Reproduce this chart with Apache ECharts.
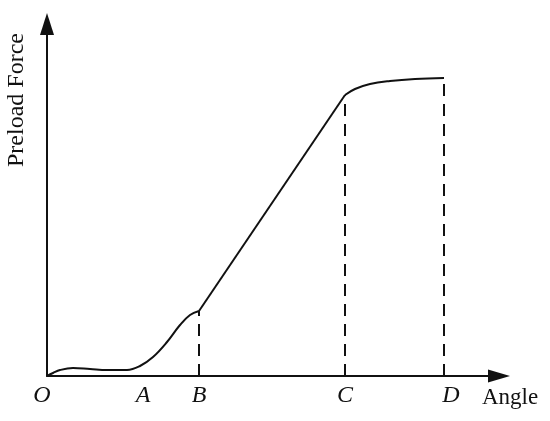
<!DOCTYPE html>
<html>
<head>
<meta charset="utf-8">
<script src="https://cdn.jsdelivr.net/npm/echarts@6/dist/echarts.min.js"></script>
<style>
  html, body { margin: 0; padding: 0; background: #fff; }
  #chart { width: 550px; height: 421px; }
</style>
</head>
<body>
<div id="chart"></div>
<script>
// Curve pieces (angle, preload force) in arbitrary units
const lowX = [0, 6, 13, 26, 43, 60, 80, 93, 106, 120, 133, 143, 152];
const lowY = [0, 3, 6, 8, 7, 6, 6, 10, 19, 34, 51, 61, 65];
const rampX = [152, 298];
const rampY = [65, 281];
const topX = [298, 308, 323, 343, 368, 397];
const topY = [281, 287, 292, 295, 297, 298];

// Axis marks
const tickNames = ['O', 'A', 'B', 'C', 'D'];
const tickValues = [0, 96, 152, 298, 397];
// dashed drop lines at B, C, D
const dropX = [152, 298, 397];
const dropY = [65, 281, 298];

const pairs = (xs, ys) => xs.map((x, i) => [x, ys[i]]);
const serif = '"Liberation Serif", "DejaVu Serif", serif';
const ink = '#111';

const chart = echarts.init(document.getElementById('chart'));

const lineSeries = (data, smooth) => ({
  type: 'line',
  data: data,
  smooth: smooth,
  showSymbol: false,
  silent: true,
  lineStyle: { color: ink, width: 2 }
});

const labelStyle = (pad) => ({
  fontFamily: serif, fontStyle: 'italic', fontSize: 24, color: ink, padding: pad
});

const option = {
  animation: false,
  grid: { left: 47, right: 51, top: 24, bottom: 45 },
  xAxis: {
    type: 'value',
    min: 0,
    max: 452,
    axisLine: { lineStyle: { color: ink, width: 2 }, symbol: ['none', 'triangle'], symbolSize: [13, 22] },
    axisTick: { show: false },
    splitLine: { show: false },
    axisLabel: {
      customValues: tickValues,
      margin: 8,
      formatter: (v) => {
        const name = tickNames[tickValues.indexOf(v)];
        if (name === 'O') return '{o|O}';
        if (name === 'D') return '{d|D}';
        return '{t|' + name + '}';
      },
      rich: {
        t: labelStyle([0, 0, 0, 0]),
        o: labelStyle([0, 10, 0, 0]),
        d: labelStyle([0, 0, 0, 14])
      }
    }
  },
  yAxis: {
    type: 'value',
    min: 0,
    max: 352,
    axisLine: { show: true, lineStyle: { color: ink, width: 2 }, symbol: ['none', 'triangle'], symbolSize: [14, 22] },
    axisTick: { show: false },
    axisLabel: { show: false },
    splitLine: { show: false }
  },
  graphic: [{
    type: 'text',
    x: 17,
    y: 100,
    rotation: Math.PI / 2,
    style: {
      text: 'Preload Force',
      fontFamily: serif,
      fontSize: 24,
      fill: ink,
      align: 'center',
      verticalAlign: 'middle'
    }
  }, {
    type: 'text',
    x: 482,
    y: 398,
    style: {
      text: 'Angle',
      fontFamily: serif,
      fontSize: 23,
      fill: ink,
      align: 'left',
      verticalAlign: 'middle'
    }
  }],
  series: [
    lineSeries(pairs(lowX, lowY), 0.4),
    lineSeries(pairs(rampX, rampY), false),
    Object.assign(lineSeries(pairs(topX, topY), 0.4), {
      markLine: {
        silent: true,
        symbol: 'none',
        label: { show: false },
        lineStyle: { color: ink, width: 2, type: [12, 8] },
        data: dropX.map((x, i) => [{ coord: [x, 0] }, { coord: [x, dropY[i]] }])
      }
    })
  ]
};

chart.setOption(option);
</script>
</body>
</html>
